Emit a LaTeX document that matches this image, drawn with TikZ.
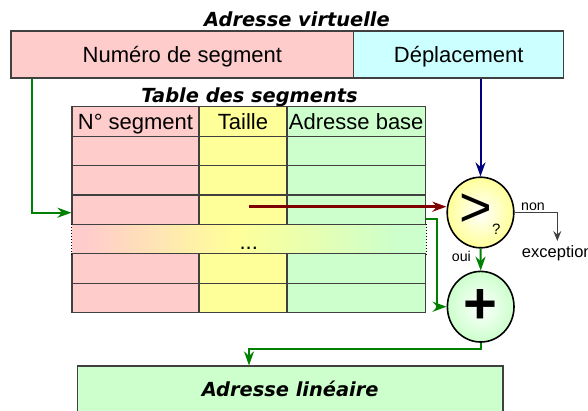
\documentclass[tikz,border=0pt]{standalone}
\usepackage{fontspec}
\setmainfont{Liberation Sans}
\newfontfamily\titlefont{DejaVu Sans}
\usetikzlibrary{arrows.meta,shapes.geometric}
\definecolor{segpink}{HTML}{FFCCCC}
\definecolor{segcyan}{HTML}{CCFFFF}
\definecolor{segyellow}{HTML}{FFFF99}
\definecolor{seggreen}{HTML}{CCFFCC}
\definecolor{edgegray}{HTML}{404040}
\definecolor{flowgreen}{HTML}{008000}
\definecolor{flownavy}{HTML}{000080}
\definecolor{flowred}{HTML}{800000}
\pgfdeclarehorizontalshading{rowfade}{100bp}{color(0bp)=(segpink); color(27bp)=(segpink); color(48bp)=(segyellow); color(71bp)=(seggreen); color(100bp)=(seggreen)}
\begin{document}
\begin{tikzpicture}[x=1pt,y=-1pt,
  field/.style={draw=edgegray,line width=1.2pt,minimum height=47pt,inner sep=0pt,
    font=\fontsize{22}{26}\selectfont,text height=16pt,text depth=0pt},
  cell/.style={draw=edgegray,line width=1.2pt,minimum height=29.43pt,inner sep=0pt,
    font=\fontsize{22}{26}\selectfont,text height=16pt,text depth=0pt},
  title/.style={anchor=base,font=\titlefont\bfseries\itshape\fontsize{19.4}{23}\selectfont},
  small/.style={inner sep=0pt,font=\fontsize{14.2}{17}\selectfont},
  op/.style={ellipse,draw=black,line width=1.6pt,minimum width=66.6pt,minimum height=70.6pt,
    inner sep=0pt,inner color=white},
  tip/.style={-{Stealth[length=14pt,width=10pt,inset=4.5pt]}},
  flow/.style={flowgreen,line width=2pt,tip}]
  \useasboundingbox (0,0) rectangle (588,410);
  \clip (0,0) rectangle (588,410);
  % virtual address
  \node[title] (virt) at (297,26.7) {Adresse virtuelle};
  \node[field,fill=segpink,minimum width=342.7pt] (numseg) at (182.35,54.5) {Numéro de segment};
  \node[field,fill=segcyan,minimum width=210pt] (depl) at (458.7,54.5) {Déplacement};
  % segment table
  \node[title] (tabtitle) at (249.5,102) {Table des segments};
  \node[cell,draw=none,shade,shading=rowfade,minimum width=353.5pt,text height=19.8pt] (dots) at (248.75,239.15) {...};
  \node[cell,fill=segpink,minimum width=127pt] (a0) at (135.5,121.4) {N° segment};
  \node[cell,fill=segyellow,minimum width=88pt] (b0) at (243,121.4) {Taille};
  \node[cell,fill=seggreen,minimum width=138.5pt] (c0) at (356.25,121.4) {Adresse base};
  \foreach \r in {1,2,3,5,6} {
    \node[cell,fill=segpink,minimum width=127pt] (a\r) at (135.5,{121.4+29.43*\r}) {};
    \node[cell,fill=segyellow,minimum width=88pt] (b\r) at (243,{121.4+29.43*\r}) {};
    \node[cell,fill=seggreen,minimum width=138.5pt] (c\r) at (356.25,{121.4+29.43*\r}) {};
  }
  \draw[dotted,line width=1pt] (dots.north west) -- (dots.south west);
  \draw[dotted,line width=1pt] (dots.north east) -- (dots.south east);
  % operators
  \node[op,outer color=segyellow] (cmp) at (480.5,212.5) {};
  \node[font=\fontsize{56}{56}\selectfont,inner sep=0pt] (gt) at (475.7,210.5) {>};
  \node[small,font=\fontsize{15}{17}\selectfont] (quest) at (496.3,229) {?};
  \node[op,outer color=seggreen] (add) at (480.7,306.7) {};
  \node[font=\bfseries\fontsize{58}{58}\selectfont,inner sep=0pt] (plus) at (480.8,306) {+};
  \node[small,anchor=base west] (non) at (521,210) {non};
  \node[small,anchor=base west] (oui) at (451.7,261.7) {oui};
  \node[anchor=north,inner sep=4.5pt,font=\fontsize{16.5}{19}\selectfont] (exc) at (557.3,241) {exception};
  % linear address
  \node[field,fill=seggreen,minimum width=425.7pt,font=\titlefont\bfseries\itshape\fontsize{19.4}{23}\selectfont,text height=14pt] (lin) at (290.15,389.5) {Adresse linéaire};
  % connectors
  \draw[flow] ([xshift=21.7pt]numseg.south west) |- ([yshift=-3pt]a3.west);
  \draw[flownavy,line width=2pt,tip] (cmp.north |- depl.south) -- (cmp.north);
  \draw[flowred,line width=2.4pt,tip] ([xshift=6pt,yshift=3pt]b3.center) -- ([yshift=3pt]b3.center -| cmp.west);
  \draw[edgegray,line width=1.5pt,-{Stealth[length=10pt,width=8pt,inset=3.5pt]}] (cmp.east) -| (exc.north);
  \draw[flow] (cmp.south) -- (add.north);
  \draw[flow] ([yshift=-9.3pt]c3.east) -- ++(10.5,0) |- (add.west);
  \draw[flow] (add.south) -- ++(0,5.7) -| ([xshift=-41.15pt]lin.north);
\end{tikzpicture}
\end{document}
